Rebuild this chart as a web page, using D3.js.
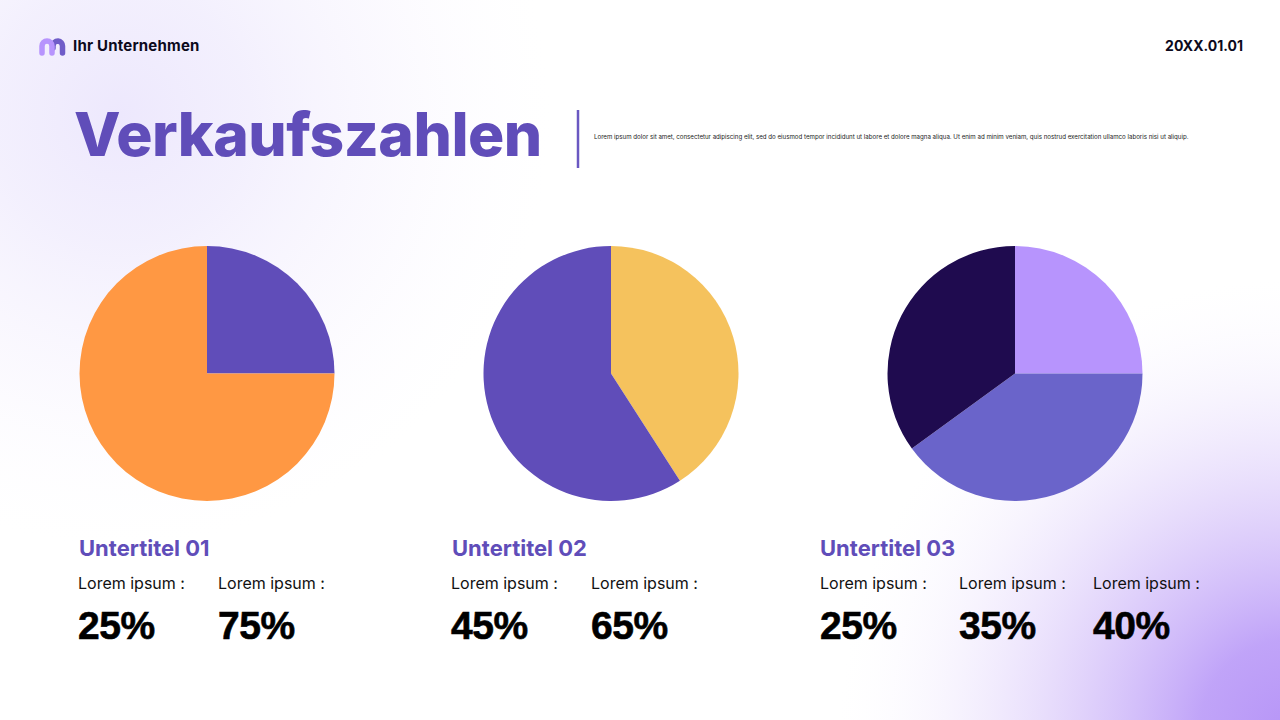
<!DOCTYPE html>
<html>
<head>
<meta charset="utf-8">
<script src="https://cdn.jsdelivr.net/npm/d3@7"></script>
<style>
  html, body { margin: 0; padding: 0; background: #fff; }
  svg { display: block; }
  text { font-family: Inter, "Noto Sans", sans-serif; }
</style>
</head>
<body>
<svg id="chart" width="1280" height="720"></svg>
<script>
const companyName = 'Ihr Unternehmen';
const dateLabel = '20XX.01.01';
const titleText = 'Verkaufszahlen';
const loremText = 'Lorem ipsum dolor sit amet, consectetur adipiscing elit, sed do eiusmod tempor incididunt ut labore et dolore magna aliqua. Ut enim ad minim veniam, quis nostrud exercitation ullamco laboris nisi ut aliquip.';
const subtitles = ['Untertitel 01', 'Untertitel 02', 'Untertitel 03'];
const itemLabel = 'Lorem ipsum :';

// slice values, clockwise from 12 o'clock
const pie1Values = [25, 75];
const pie2Values = [45, 65];
const pie3Values = [25, 40, 35];
const pie1Colors = ['#604db9', '#ff9843'];
const pie2Colors = ['#f5c25d', '#604db9'];
const pie3Colors = ['#b794fd', '#6a64ca', '#1f0b4f'];

// printed percentages (third group is listed in another order than its slices)
const labels1 = [25, 75];
const labels2 = [45, 65];
const labels3 = [25, 35, 40];

const svg = d3.select('#chart');
const defs = svg.append('defs');

function radial(id, cx, cy, r, stops) {
    const g = defs.append('radialGradient')
        .attr('id', id)
        .attr('gradientUnits', 'userSpaceOnUse')
        .attr('cx', cx).attr('cy', cy).attr('r', r);
    stops.forEach(s => g.append('stop')
        .attr('offset', s[0])
        .attr('stop-color', s[1])
        .attr('stop-opacity', s[2]));
}

radial('bgTop', 120, 115, 430, [[0, '#ede8fd', 1], [0.3, '#f0ecfd', 0.8], [0.65, '#f7f4fe', 0.5], [1, '#fcfbff', 0]]);
radial('bgBottom', 1290, 730, 450, [[0, '#b795f7', 1], [0.2, '#bd9ff8', 0.95], [0.5, '#d8c6fa', 0.7], [0.75, '#efe8fd', 0.5], [1, '#fbf9ff', 0]]);

svg.append('rect').attr('width', 1280).attr('height', 720).attr('fill', '#fff');
svg.append('rect').attr('width', 1280).attr('height', 720).attr('fill', 'url(#bgTop)');
svg.append('rect').attr('width', 1280).attr('height', 720).attr('fill', 'url(#bgBottom)');

// logo
const logo = svg.append('g').attr('fill', 'none').attr('stroke-width', 5.5).attr('stroke-linecap', 'round');
logo.append('path').attr('d', 'M53 48V46a5 5 0 0 1 5-5a5 5 0 0 1 4.5 5V53').attr('stroke', '#6f5cc8');
logo.append('path').attr('d', 'M42 53V46a5 5 0 0 1 5-5a5 5 0 0 1 5 5V53').attr('stroke', '#b794fd');

svg.append('text').attr('x', 73).attr('y', 50.5)
    .attr('font-size', 15).attr('font-weight', 700).attr('letter-spacing', 0.2).attr('fill', '#0c0a1c')
    .text(companyName);
svg.append('text').attr('x', 1243).attr('y', 50.5).attr('text-anchor', 'end')
    .attr('font-size', 14).attr('font-weight', 700).attr('fill', '#0c0a1c')
    .text(dateLabel);

// header
svg.append('text').attr('x', 74).attr('y', 156)
    .attr('font-size', 60.5).attr('font-weight', 800).attr('letter-spacing', -0.5).attr('fill', '#604db9')
    .text(titleText);
svg.append('line').attr('x1', 578).attr('x2', 578).attr('y1', 110).attr('y2', 168)
    .attr('stroke', '#6a58c2').attr('stroke-width', 2.5);
svg.append('text').attr('x', 594).attr('y', 139)
    .attr('font-size', 6.15).attr('fill', '#222')
    .text(loremText);

// pies
const pieLayout = d3.pie().sort(null).value(d => d);
const arcGen = d3.arc().innerRadius(0).outerRadius(127.5);

function drawPie(cx, values, colors) {
    const g = svg.append('g').attr('transform', `translate(${cx},373.5)`);
    g.selectAll('path')
        .data(pieLayout(values))
        .enter()
        .append('path')
        .attr('d', arcGen)
        .attr('fill', (d, i) => colors[i]);
}

drawPie(207, pie1Values, pie1Colors);
drawPie(611, pie2Values, pie2Colors);
drawPie(1015, pie3Values, pie3Colors);

// captions
function drawCaption(title, x, items, xs) {
    svg.append('text').attr('x', x).attr('y', 556)
        .attr('font-size', 22).attr('font-weight', 700).attr('fill', '#604db9')
        .text(title);
    items.forEach((v, i) => {
        svg.append('text').attr('x', xs[i]).attr('y', 589)
            .attr('font-size', 16).attr('fill', '#111')
            .text(itemLabel);
        svg.append('text').attr('x', xs[i]).attr('y', 639)
            .style('font-family', '"Liberation Sans", Arial, sans-serif')
            .attr('font-size', 39).attr('font-weight', 700).attr('letter-spacing', -0.5).attr('fill', '#000')
            .attr('stroke', '#000').attr('stroke-width', 0.6)
            .text(v + '%');
    });
}

drawCaption(subtitles[0], 79, labels1, [78, 218]);
drawCaption(subtitles[1], 452, labels2, [451, 591]);
drawCaption(subtitles[2], 820, labels3, [820, 959, 1093]);
</script>
</body>
</html>
